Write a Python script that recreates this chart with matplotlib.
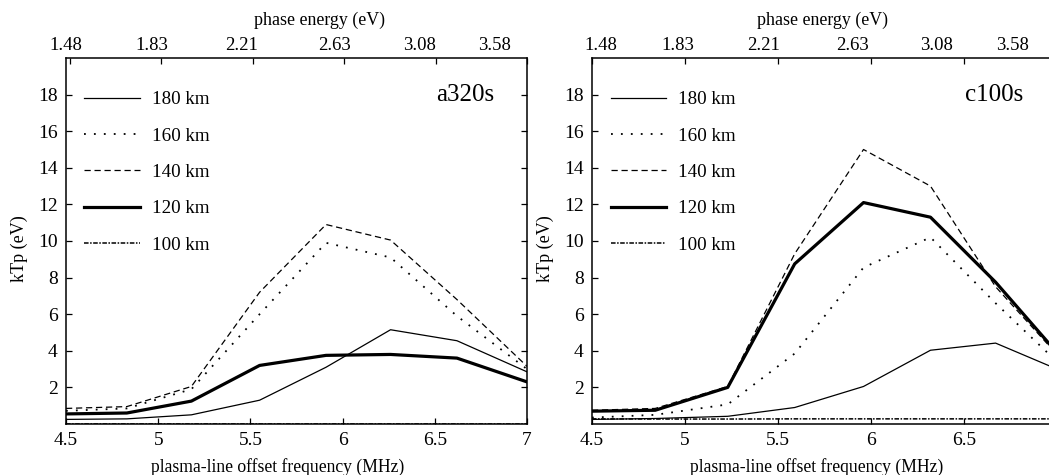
import matplotlib
matplotlib.use("Agg")
import matplotlib.pyplot as plt

plt.rcParams['font.family'] = ['Liberation Serif', 'DejaVu Serif']

# ---- data ----
freq_a = [4.5, 4.83, 5.18, 5.55, 5.91, 6.26, 6.62, 7.0]
a_180 = [0.25, 0.28, 0.5, 1.3, 3.1, 5.15, 4.55, 2.85]
a_160 = [0.72, 0.85, 1.9, 6.0, 9.9, 9.1, 5.9, 3.0]
a_140 = [0.85, 0.95, 2.05, 7.2, 10.9, 10.05, 6.8, 3.15]
a_120 = [0.55, 0.6, 1.25, 3.2, 3.75, 3.8, 3.6, 2.3]
a_100 = [0.02, 0.02, 0.02, 0.02, 0.02, 0.02, 0.02, 0.02]

freq_c = [4.5, 4.84, 5.23, 5.59, 5.96, 6.32, 6.67, 7.0]
c_180 = [0.25, 0.3, 0.42, 0.9, 2.05, 4.03, 4.42, 3.0]
c_160 = [0.35, 0.5, 1.07, 3.85, 8.55, 10.2, 6.6, 3.4]
c_140 = [0.75, 0.85, 2.05, 9.3, 15.0, 13.0, 7.5, 3.8]
c_120 = [0.7, 0.75, 2.0, 8.75, 12.1, 11.3, 7.75, 3.9]
c_100 = [0.28, 0.27, 0.27, 0.28, 0.28, 0.28, 0.28, 0.28]

labels = ["180 km", "160 km", "140 km", "120 km", "100 km"]
freq_ticks = [4.5, 5, 5.5, 6, 6.5, 7]
freq_ticklabels_a = ["4.5", "5", "5.5", "6", "6.5", "7"]
freq_ticklabels_c = ["4.5", "5", "5.5", "6", "6.5", ""]  # "7" falls off the page
kt_ticks = [2, 4, 6, 8, 10, 12, 14, 16, 18]
energy_labels = ["1.48", "1.83", "2.21", "2.63", "3.08", "3.58"]
energy_pos_a = [4.48, 4.95, 5.44, 5.95, 6.41, 6.82]
energy_pos_c = [4.55, 4.96, 5.42, 5.90, 6.35, 6.76]

styles = [
    dict(ls="-", lw=0.9),
    dict(ls=(0, (1, 4.5)), lw=1.3),
    dict(ls=(0, (5, 3)), lw=0.9),
    dict(ls="-", lw=2.3),
    dict(ls=(0, (3, 1, 1, 1)), lw=1.1),
]


def panel(ax, freq, series, name, xlabels, epos, xlab_x, toplab_x, name_x):
    for vals, lab, st in zip(series, labels, styles):
        ax.plot(freq, vals, color="black", label=lab, **st)
    ax.set_xlim(4.5, 7)
    ax.set_ylim(0, 20)
    ax.set_xticks(freq_ticks)
    ax.set_xticklabels(xlabels)
    ax.set_yticks(kt_ticks)
    ax.tick_params(direction="in", length=4, width=0.9, labelsize=14,
                   right=True, pad=6)
    for s in ax.spines.values():
        s.set_linewidth(1.1)
    ax.set_xlabel("plasma-line offset frequency (MHz)", fontsize=12.7)
    ax.xaxis.set_label_coords(xlab_x, -0.092)
    ax.set_ylabel("kTp (eV)", fontsize=13)
    ax.yaxis.set_label_coords(-0.082, 0.48)
    ax.text(name_x, 0.9, name, transform=ax.transAxes, ha="right",
            va="center", fontsize=18)
    ax.legend(loc="upper left", bbox_to_anchor=(0.04, 0.91), frameon=False,
              fontsize=13.7, handlelength=2.9, handletextpad=0.65,
              labelspacing=1.0, borderpad=0, borderaxespad=0)

    top = ax.twiny()
    top.set_xlim(ax.get_xlim())
    top.set_xticks(freq_ticks, minor=True)
    top.set_xticks(epos)
    top.set_xticklabels(energy_labels)
    top.tick_params(which="major", length=0, labelsize=13.5, pad=3)
    top.tick_params(which="minor", direction="in", length=4, width=0.9)
    top.set_xlabel("phase energy (eV)", fontsize=12.9)
    top.xaxis.set_label_coords(toplab_x, 1.09)
    for s in top.spines.values():
        s.set_visible(False)


fig = plt.figure(figsize=(10.49, 4.75), dpi=100)
ax1 = fig.add_axes([0.0629, 0.1074, 0.4395, 0.7705])
ax2 = fig.add_axes([0.5643, 0.1074, 0.4433, 0.7705])

panel(ax1, freq_a, [a_180, a_160, a_140, a_120, a_100], "a320s",
      freq_ticklabels_a, energy_pos_a, 0.458, 0.55, 0.93)
panel(ax2, freq_c, [c_180, c_160, c_140, c_120, c_100], "c100s",
      freq_ticklabels_c, energy_pos_c, 0.484, 0.495, 0.927)

fig.savefig("out.png", dpi=100)
